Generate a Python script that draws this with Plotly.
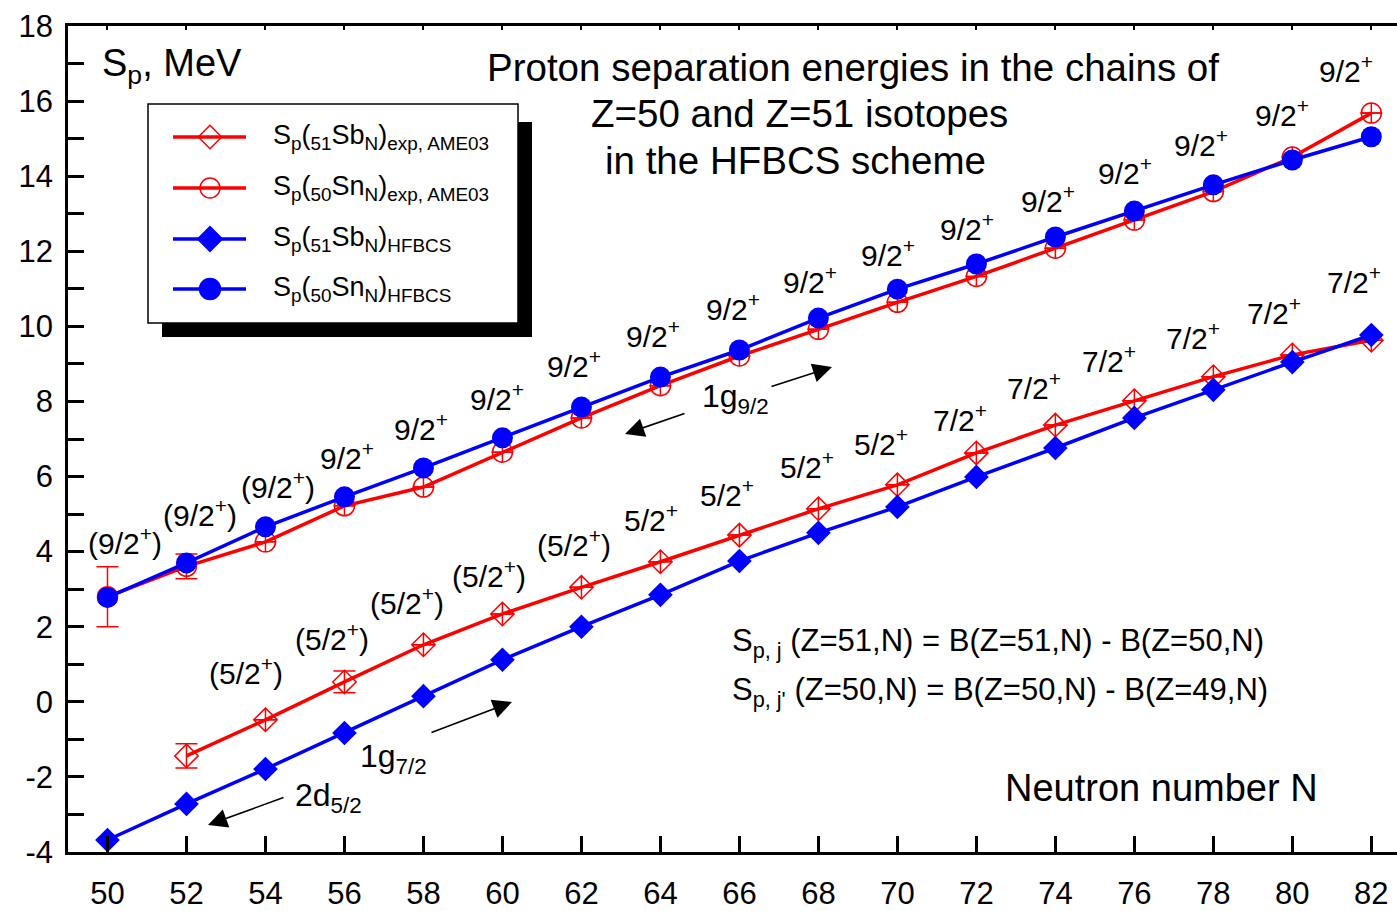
import plotly.graph_objects as go

# ---------------- data ----------------
N = list(range(50, 84, 2))                      # neutron number, Z=50 / Z=51 chains
sn_hfbcs = [2.78, 3.70, 4.66, 5.46, 6.23, 7.03, 7.85, 8.65, 9.37,
            10.22, 10.99, 11.66, 12.38, 13.07, 13.77, 14.43, 15.05]
sn_exp = [2.80, 3.61, 4.26, 5.22, 5.72, 6.65, 7.56, 8.42, 9.21,
          9.92, 10.64, 11.33, 12.08, 12.83, 13.59, 14.51, 15.68]
sn_exp_err = [0.80, 0.33] + [0.0] * 15

sb_hfbcs = [-3.68, -2.72, -1.79, -0.83, 0.15, 1.12, 2.00, 2.85, 3.75,
            4.50, 5.19, 5.99, 6.76, 7.56, 8.31, 9.05, 9.77]
N_sb_exp = list(range(52, 84, 2))
sb_exp = [-1.44, -0.48, 0.53, 1.52, 2.34, 3.05, 3.73, 4.44, 5.14,
          5.78, 6.63, 7.37, 8.02, 8.66, 9.24, 9.63]
sb_exp_err = [0.32, 0.0, 0.29] + [0.0] * 13

sn_spins = ["(9/2+)"] * 3 + ["9/2+"] * 14
N_sb_spin = list(range(54, 84, 2))
sb_spins = ["(5/2+)"] * 5 + ["5/2+"] * 4 + ["7/2+"] * 6

x_ticks = list(range(50, 84, 2))
y_ticks = list(range(-4, 20, 2))
y_tick_text = [str(v) for v in y_ticks]

# ---------------- geometry helpers ----------------
FIG_W, FIG_H = 1397, 911
M_L, M_R, M_T, M_B = 68, 0, 26, 59
X_RANGE = [49.0, 82.65]
Y_RANGE = [-4.0, 18.0]


def px_x(p):
    return X_RANGE[0] + (p - M_L) * (X_RANGE[1] - X_RANGE[0]) / (FIG_W - M_L - M_R)


def px_y(p):
    return Y_RANGE[1] - (p - M_T) * (Y_RANGE[1] - Y_RANGE[0]) / (FIG_H - M_T - M_B)


FONT = "Liberation Sans, Arial, sans-serif"
RED = "#ff0000"
BLUE = "#0000ff"


def spin_html(s):
    return s.replace("+", "<sup>+</sup>")


fig = go.Figure()

# experimental (AME03) values
circ_sym = ["circle-open" if e > 0.1 else "circle-cross-open" for e in sn_exp_err]
diam_sym = ["diamond-open" if e > 0.1 else "diamond-cross-open" for e in sb_exp_err]

fig.add_trace(go.Scatter(
    x=N_sb_exp, y=sb_exp, mode="lines+markers",
    line=dict(color=RED, width=3.5),
    marker=dict(symbol=diam_sym, size=18, color=RED, line=dict(color=RED, width=1.5)),
    error_y=dict(type="data", array=sb_exp_err, color=RED, thickness=1.5, width=11),
    showlegend=False))
fig.add_trace(go.Scatter(
    x=N, y=sn_exp, mode="lines+markers",
    line=dict(color=RED, width=3.5),
    marker=dict(symbol=circ_sym, size=20, color=RED, line=dict(color=RED, width=1.5)),
    error_y=dict(type="data", array=sn_exp_err, color=RED, thickness=1.5, width=11),
    showlegend=False))

# HFBCS values
fig.add_trace(go.Scatter(
    x=N, y=sb_hfbcs, mode="lines+markers",
    line=dict(color=BLUE, width=3.5),
    marker=dict(symbol="diamond", size=19, color=BLUE),
    showlegend=False))
fig.add_trace(go.Scatter(
    x=N, y=sn_hfbcs, mode="lines+markers",
    line=dict(color=BLUE, width=3.5),
    marker=dict(symbol="circle", size=21, color=BLUE),
    showlegend=False))

# ---------------- hand-made legend box ----------------
shapes = [
    dict(type="rect", xref="x", yref="y", layer="below",
         x0=px_x(162), x1=px_x(532), y0=px_y(122), y1=px_y(337),
         fillcolor="black", line=dict(width=0)),
    dict(type="rect", xref="x", yref="y", layer="below",
         x0=px_x(148), x1=px_x(518), y0=px_y(104), y1=px_y(323),
         fillcolor="white", line=dict(color="black", width=1.5)),
]

legend_rows = [
    (137, RED, "diamond-open", 18,
     "S<sub>p</sub>(<sub>51</sub>Sb<sub>N</sub>)<sub>exp, AME03</sub>"),
    (188, RED, "circle-open", 20,
     "S<sub>p</sub>(<sub>50</sub>Sn<sub>N</sub>)<sub>exp, AME03</sub>"),
    (239, BLUE, "diamond", 19,
     "S<sub>p</sub>(<sub>51</sub>Sb<sub>N</sub>)<sub>HFBCS</sub>"),
    (289, BLUE, "circle", 21,
     "S<sub>p</sub>(<sub>50</sub>Sn<sub>N</sub>)<sub>HFBCS</sub>"),
]

annotations = []
for row_y, col, sym, size, label in legend_rows:
    yy = px_y(row_y)
    fig.add_trace(go.Scatter(x=[px_x(173), px_x(246)], y=[yy, yy], mode="lines",
                             line=dict(color=col, width=3.5), showlegend=False,
                             hoverinfo="skip"))
    fig.add_trace(go.Scatter(x=[px_x(210)], y=[yy], mode="markers",
                             marker=dict(symbol=sym, size=size, color=col,
                                         line=dict(color=col, width=1.5)),
                             showlegend=False, hoverinfo="skip"))
    annotations.append(dict(x=px_x(271), y=yy, xref="x", yref="y", text=label,
                            xanchor="left", yanchor="middle", showarrow=False,
                            font=dict(family=FONT, size=27, color="black")))

# ---------------- spin-parity labels ----------------
sn_dx = [18, 14, 13, 3, -2, -5, -7, -7, -6, -8, -9, -9, -7, -9, -12, -10, -25]
sn_dy = [56, 50, 42, 41, 41, 41, 43, 43, 43, 38, 36, 37, 38, 40, 42, 47, 68]
for n, v, s, ddx, ddy in zip(N, sn_hfbcs, sn_spins, sn_dx, sn_dy):
    annotations.append(dict(x=n, y=v, xref="x", yref="y", text=spin_html(s),
                            xshift=ddx, yshift=ddy, showarrow=False,
                            xanchor="center", yanchor="middle",
                            font=dict(family=FONT, size=30, color="black")))

sb_lookup = dict(zip(N_sb_exp, sb_exp))
sb_dx = [-19, -12, -16, -13, -7, -9, -12, -11, -16, -16, -21, -25, -20, -18, -17]
sb_dy = [49, 45, 44, 40, 44, 44, 42, 44, 43, 35, 39, 42, 41, 44, 60]
for n, s, ddx, ddy in zip(N_sb_spin, sb_spins, sb_dx, sb_dy):
    annotations.append(dict(x=n, y=sb_lookup[n], xref="x", yref="y", text=spin_html(s),
                            xshift=ddx, yshift=ddy, showarrow=False,
                            xanchor="center", yanchor="middle",
                            font=dict(family=FONT, size=30, color="black")))

# ---------------- texts ----------------
def text_at(px, py, txt, size, anchor="center"):
    annotations.append(dict(x=px_x(px), y=px_y(py), xref="x", yref="y", text=txt,
                            showarrow=False, xanchor=anchor, yanchor="middle",
                            font=dict(family=FONT, size=size, color="black")))


text_at(100, 66, "S<sub>p</sub>, MeV", 38, "left")
text_at(853, 67, "Proton separation energies in the chains of", 38.5)
text_at(799, 113, "Z=50 and Z=51 isotopes", 38.5)
text_at(795, 160, "in the HFBCS scheme", 38.5)
text_at(730, 643, "S<sub>p, j</sub> (Z=51,N) = B(Z=51,N) - B(Z=50,N)", 31, "left")
text_at(730, 692, "S<sub>p, j'</sub> (Z=50,N) = B(Z=50,N) - B(Z=49,N)", 31, "left")
text_at(1161, 788, "Neutron number N", 38)
text_at(735, 398, "1g<sub>9/2</sub>", 32)
text_at(393, 758, "1g<sub>7/2</sub>", 32)
text_at(328, 797, "2d<sub>5/2</sub>", 32)

# orbital arrows: (tail, tip) in pixel positions
arrows = [((770, 387), (832, 367)),
          ((686, 413), (625, 434)),
          ((430, 733), (512, 702)),
          ((285, 797), (208, 825))]
for (tx, ty), (hx, hy) in arrows:
    annotations.append(dict(x=px_x(hx), y=px_y(hy), ax=px_x(tx), ay=px_y(ty),
                            xref="x", yref="y", axref="x", ayref="y", text="",
                            showarrow=True, arrowhead=2, arrowsize=2.4,
                            arrowwidth=1.6, arrowcolor="black", standoff=0))

# keeps the top axis alive
fig.add_trace(go.Scatter(x=[None], y=[None], xaxis="x2", showlegend=False))

fig.update_layout(
    width=FIG_W, height=FIG_H,
    margin=dict(l=M_L, r=M_R, t=M_T, b=M_B, autoexpand=False),
    paper_bgcolor="white", plot_bgcolor="white",
    showlegend=False,
    shapes=shapes,
    annotations=annotations,
    xaxis=dict(range=X_RANGE, tickvals=x_ticks, ticks="inside", ticklen=16,
               tickwidth=2.5, tickcolor="black", showline=True, linewidth=2.5,
               linecolor="black", showgrid=False, zeroline=False,
               ticklabelstandoff=12,
               tickfont=dict(family=FONT, size=31, color="black")),
    xaxis2=dict(range=X_RANGE, overlaying="x", side="top", tickvals=x_ticks,
                ticks="inside", ticklen=4, tickwidth=1.5, tickcolor="black",
                showticklabels=False, showline=True, linewidth=2.5,
                linecolor="black", showgrid=False, zeroline=False),
    yaxis=dict(range=Y_RANGE, tickvals=y_ticks, ticktext=y_tick_text,
               ticks="inside", ticklen=16,
               tickwidth=2.5, tickcolor="black", showline=True, linewidth=2.5,
               linecolor="black", showgrid=False, zeroline=False,
               minor=dict(dtick=1, ticks="inside", ticklen=16, tickwidth=2.5,
                          tickcolor="black", showgrid=False),
               ticklabelstandoff=6,
               tickfont=dict(family=FONT, size=31, color="black")),
)

fig.write_html("out.html")
